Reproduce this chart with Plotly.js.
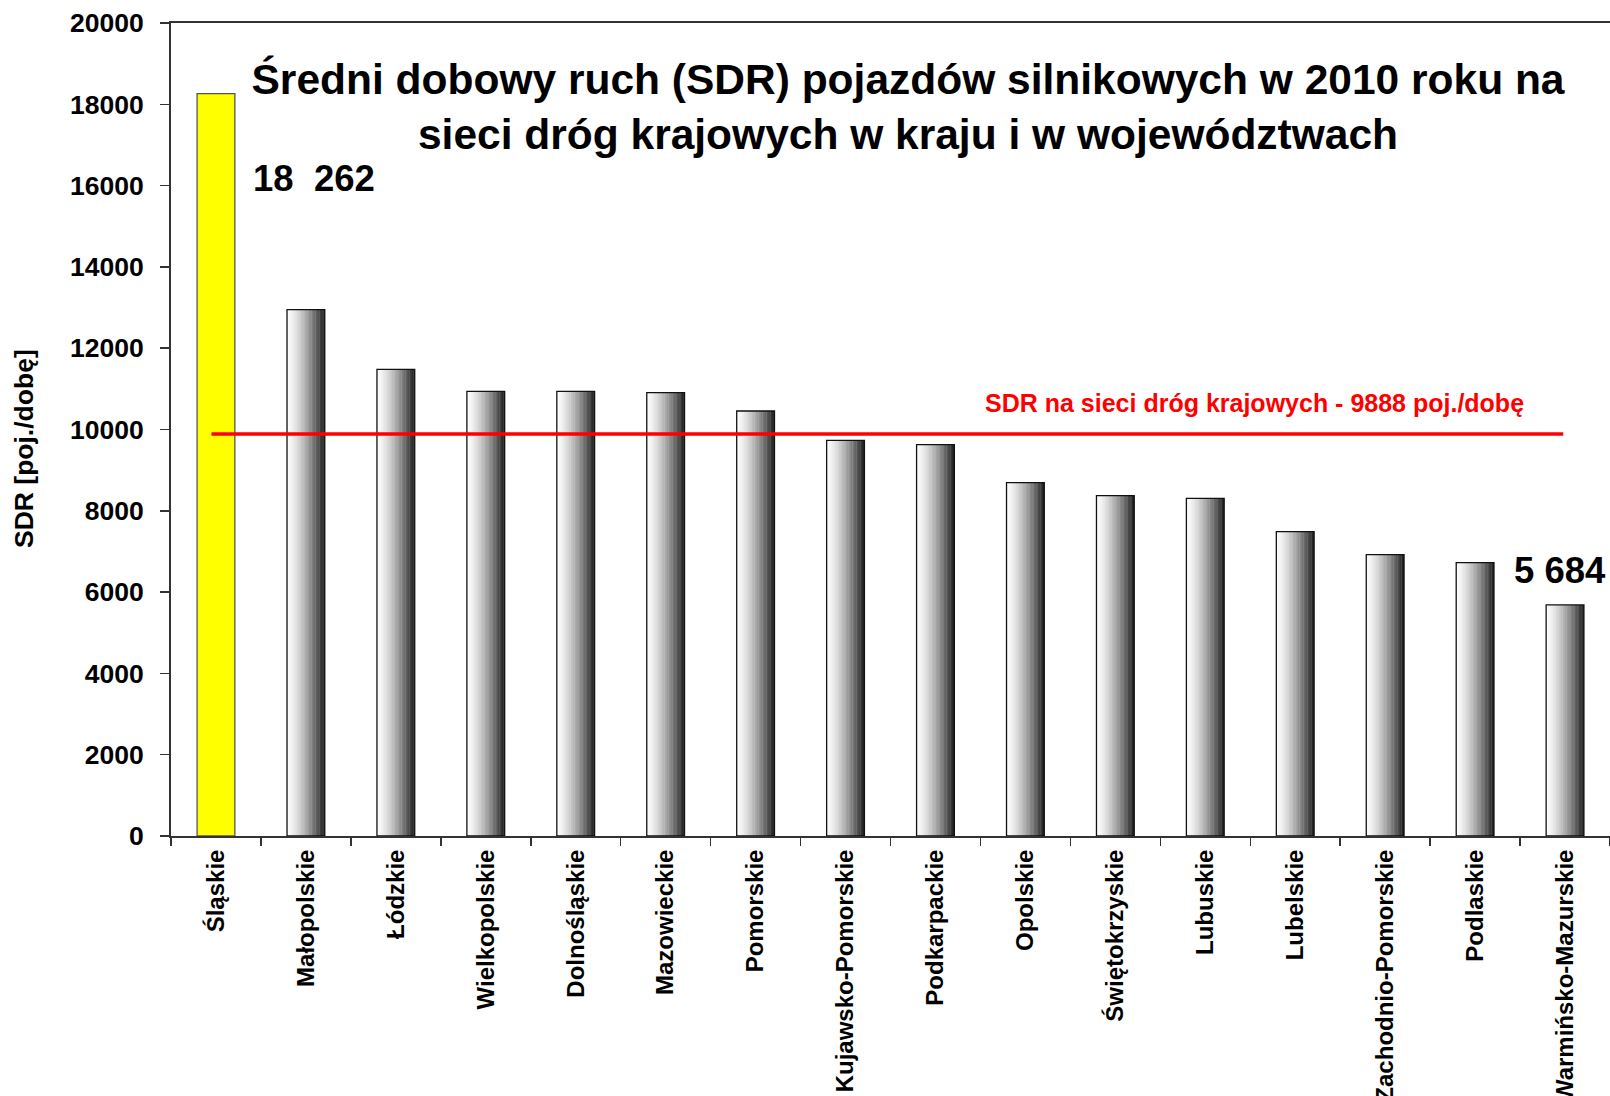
<!DOCTYPE html>
<html>
<head>
<meta charset="utf-8">
<script src="https://cdn.plot.ly/plotly-3.0.1.min.js"></script>
<style>html,body{margin:0;padding:0;background:#fff;}#chart{width:1610px;height:1096px;}</style>
</head>
<body>
<div id="chart"></div>
<script>
// ---- data ----
const categories = ["Śląskie", "Małopolskie", "Łódzkie", "Wielkopolskie", "Dolnośląskie", "Mazowieckie",
  "Pomorskie", "Kujawsko-Pomorskie", "Podkarpackie", "Opolskie", "Świętokrzyskie", "Lubuskie",
  "Lubelskie", "Zachodnio-Pomorskie", "Podlaskie", "Warmińsko-Mazurskie"];
const sdrValues = [18262, 12950, 11480, 10940, 10940, 10905, 10455, 9734, 9626, 8692, 8372, 8305,
  7486, 6920, 6723, 5684];
const nationalAverage = 9888;
const yTickValues = [0, 2000, 4000, 6000, 8000, 10000, 12000, 14000, 16000, 18000, 20000];
const titleLines = ["Średni dobowy ruch (SDR) pojazdów silnikowych w 2010 roku na",
  "sieci dróg krajowych w kraju i w województwach"];
const yAxisTitle = "SDR [poj./dobę]";
const averageLabel = "SDR na sieci dróg krajowych - " + nationalAverage + " poj./dobę";

// ---- build ----
const FONT = "Liberation Sans, Arial, sans-serif";
const W = 0.42, N = 28;
const highlightIdx = 0, lastIdx = sdrValues.length - 1;
const traces = [];
const gradY = sdrValues.map((v, i) => i === highlightIdx ? null : v);
for (let k = 0; k < N; k++) {
  const t = (k + 0.5) / N;
  const L = Math.round(253 - 228 * Math.pow(t, 1.45));
  traces.push({
    type: 'bar', x: categories, y: gradY,
    width: k < N - 1 ? (W / N) * 1.25 : W / N,
    offset: -W / 2 + k * W / N,
    marker: {color: `rgb(${L},${L},${L})`, line: {width: 0}},
    hoverinfo: 'skip', showlegend: false
  });
}
traces.push({
  type: 'bar', x: [categories[highlightIdx]], y: [sdrValues[highlightIdx]],
  width: W, offset: -W / 2,
  marker: {color: '#ffff00', line: {color: '#555555', width: 1.3}},
  showlegend: false
});
traces.push({
  type: 'bar', x: categories.filter((c, i) => i !== highlightIdx),
  y: sdrValues.filter((v, i) => i !== highlightIdx),
  width: W, offset: -W / 2,
  marker: {color: 'rgba(0,0,0,0)', line: {color: '#111111', width: 1.3}},
  showlegend: false
});

function fmt(v, sep) {
  const th = Math.floor(v / 1000), r = String(v % 1000).padStart(3, '0');
  return th + sep + r;
}

const layout = {
  width: 1610, height: 1096,
  margin: {l: 171, r: 0, t: 23, b: 260, pad: 0},
  paper_bgcolor: '#ffffff', plot_bgcolor: '#ffffff',
  barmode: 'overlay',
  font: {family: FONT, color: '#000', weight: 700},
  title: {
    text: titleLines.join('<br>'),
    font: {family: FONT, size: 42.5, color: '#000', weight: 700},
    x: 908 / 1610, xanchor: 'center', xref: 'container',
    y: 1 - 94 / 1096, yanchor: 'middle', yref: 'container'
  },
  xaxis: {
    type: 'category', categoryorder: 'array', categoryarray: categories,
    range: [-0.5, categories.length - 0.5],
    showline: true, linecolor: '#333333', linewidth: 2, mirror: true,
    ticks: 'outside', tickson: 'boundaries', ticklen: 8, tickcolor: '#333333', tickwidth: 1.5,
    tickangle: -90, tickfont: {family: FONT, size: 24, color: '#000', weight: 700},
    ticklabelstandoff: 2,
    showgrid: false, zeroline: false
  },
  yaxis: {
    range: [0, 20000], tickvals: yTickValues, ticktext: yTickValues.map(String),
    showline: true, linecolor: '#333333', linewidth: 2,
    ticks: 'outside', ticklen: 9, tickcolor: '#333333', tickwidth: 1.5,
    tickfont: {family: FONT, size: 26.5, color: '#000', weight: 700},
    ticklabelstandoff: 11,
    showgrid: false, zeroline: false
  },
  shapes: [{
    type: 'line', xref: 'x', yref: 'y', x0: -0.05, x1: categories.length - 1.02,
    y0: nationalAverage, y1: nationalAverage,
    line: {color: '#ff0000', width: 3.5}, layer: 'above'
  }],
  annotations: [
    {xref: 'paper', yref: 'paper', x: (24 - 171) / 1439, y: (836 - 449) / 813,
     xanchor: 'center', yanchor: 'middle', textangle: -90,
     text: yAxisTitle, showarrow: false,
     font: {family: FONT, size: 26.5, color: '#000', weight: 700}},
    {xref: 'paper', yref: 'paper', x: 0.753, y: 0.532, xanchor: 'center', yanchor: 'middle',
     text: averageLabel, showarrow: false,
     font: {family: FONT, size: 25, color: '#ff0000', weight: 700}},
    {xref: 'paper', yref: 'paper', x: 0.0555, y: 0.8085, xanchor: 'left', yanchor: 'middle',
     text: fmt(sdrValues[highlightIdx], '\u00a0\u00a0'), showarrow: false,
     font: {family: FONT, size: 36.5, color: '#000', weight: 700}},
    {xref: 'paper', yref: 'paper', x: 0.965, y: 0.327, xanchor: 'center', yanchor: 'middle',
     text: fmt(sdrValues[lastIdx], '\u00a0'), showarrow: false,
     font: {family: FONT, size: 36.5, color: '#000', weight: 700}}
  ]
};

Plotly.newPlot('chart', traces, layout, {displayModeBar: false, staticPlot: true});
</script>
</body>
</html>
